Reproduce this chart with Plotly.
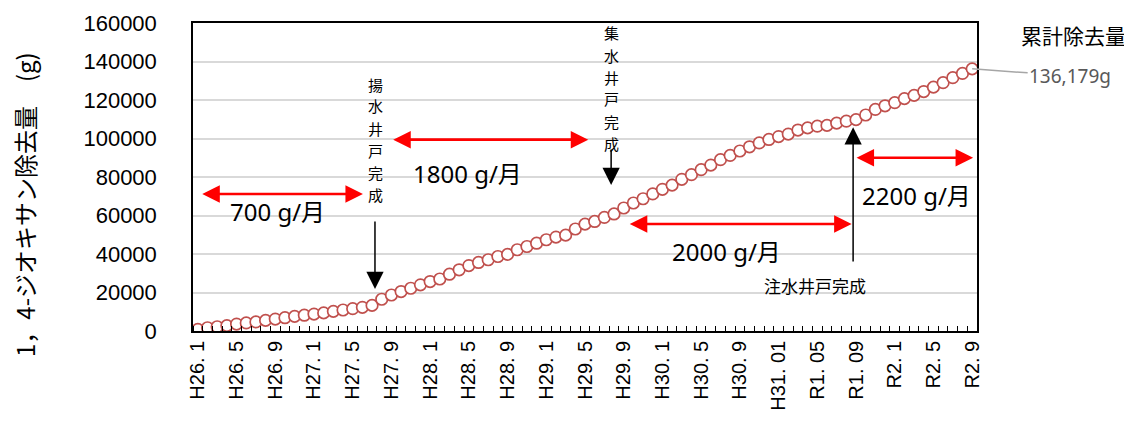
import plotly.graph_objects as go

# ---- data ----
tick_labels = ["H26. 1", "H26. 5", "H26. 9", "H27. 1", "H27. 5", "H27. 9",
               "H28. 1", "H28. 5", "H28. 9", "H29. 1", "H29. 5", "H29. 9",
               "H30. 1", "H30. 5", "H30. 9", "H31. 01", "R1. 05", "R1. 09",
               "R2. 1", "R2. 5", "R2. 9"]
label_step = 4  # one label every 4 months

removal_g = [800, 1700, 2200, 2800, 3600, 4200, 4700, 5500, 6200, 6900,
             7600, 8200, 8800, 9400, 10200, 10900, 11600, 12300, 13300, 16500,
             18700, 20500, 22200, 24000, 25700, 27000, 29500, 31800, 34000, 35600,
             37000, 38700, 39800, 42200, 43900, 45600, 47400, 48800, 49800, 53000,
             55500, 56900, 59000, 60800, 63900, 66500, 68700, 71200, 73600, 75800,
             78800, 81200, 83800, 86200, 89000, 91200, 93500, 95700, 97700, 99500,
             101000, 102300, 104400, 105500, 106400, 106800, 108000, 109000, 109800, 112200,
             115100, 117000, 118600, 120700, 122400, 124400, 126700, 129000, 131600, 133800,
             136179]
month_index = list(range(len(removal_g)))

final_label = "136,179g"
rate_labels = ["700 g/月", "1800 g/月", "2000 g/月", "2200 g/月"]
event_labels = ["揚水井戸完成", "集水井戸完成", "注水井戸完成"]

# plot area in page pixels: x 193..977, y 23..331
PX_L, PX_R, PX_T, PX_B = 193, 977, 23, 331

def paper_x(px):
    return (px - PX_L) / (PX_R - PX_L)

def paper_y(py):
    return (PX_B - py) / (PX_B - PX_T)

# ---- figure ----
fig = go.Figure()
fig.add_trace(go.Scatter(
    x=month_index, y=removal_g, mode="markers",
    marker=dict(symbol="circle", size=11.5, color="white",
                line=dict(color="#C0504D", width=1.7)),
    showlegend=False, hoverinfo="x+y"))

jp = "Noto Sans CJK JP"
annos = []

# vertical event labels: one character per line, stacked
def vertical_label(text, px_x, py_first, step=22):
    for i, ch in enumerate(text):
        annos.append(dict(x=paper_x(px_x), y=paper_y(py_first + i * step),
                          xref="paper", yref="paper", text=ch, showarrow=False,
                          xanchor="center", yanchor="middle", borderpad=0,
                          font=dict(family=jp, size=15, color="black")))

vertical_label(event_labels[0], 375, 84)
vertical_label(event_labels[1], 611, 33)
annos.append(dict(x=paper_x(815), y=paper_y(285), xref="paper", yref="paper",
                  text=event_labels[2], xanchor="center", yanchor="middle",
                  showarrow=False, font=dict(family=jp, size=17, color="black")))

# black arrows
def black_arrow(x, y_tip, y_tail):
    return dict(x=x, y=y_tip, ax=x, ay=y_tail, xref="x", yref="y", axref="x", ayref="y",
                text="", showarrow=True, arrowhead=2, arrowsize=2.3, arrowwidth=1.5,
                arrowcolor="black")

annos.append(black_arrow(18.3, 21800, 57700))
annos.append(black_arrow(42.7, 75900, 95100))
annos.append(black_arrow(67.7, 105800, 35300))

# red double arrows
def red_arrow(x0, x1, y):
    return dict(x=x1, y=y, ax=x0, ay=y, xref="x", yref="y", axref="x", ayref="y",
                text="", showarrow=True, arrowhead=2, startarrowhead=2,
                arrowside="end+start", arrowsize=1.35, startarrowsize=1.35,
                arrowwidth=2.6, arrowcolor="#FF0000")

annos.append(red_arrow(0.3, 17.06, 71200))
annos.append(red_arrow(20.03, 40.34, 99400))
annos.append(red_arrow(44.47, 67.55, 55600))
annos.append(red_arrow(67.9, 80.1, 90000))

# rate labels
for (x, y), t in zip([(8.28, 62000), (27.86, 81900), (54.64, 41200), (74.27, 70650)], rate_labels):
    annos.append(dict(x=x, y=y, xref="x", yref="y", text=t, showarrow=False,
                      xanchor="center", yanchor="middle",
                      font=dict(family="Noto Sans, " + jp, size=24, color="black")))

# cumulative label
annos.append(dict(x=paper_x(1073), y=paper_y(35), xref="paper", yref="paper",
                  text="累計除去量", showarrow=False, xanchor="center", yanchor="middle",
                  font=dict(family=jp, size=21, color="black")))
annos.append(dict(x=month_index[-1], y=removal_g[-1], xref="x", yref="y",
                  text=final_label, showarrow=True, arrowhead=0, arrowwidth=1.5,
                  arrowcolor="#A6A6A6", ax=98, ay=7,
                  font=dict(family="Noto Sans", size=19, color="#595959")))

# y axis title
annos.append(dict(x=paper_x(25), y=paper_y(205), xref="paper", yref="paper",
                  text="1，4-ジオキサン除去量　(g)", textangle=-90, showarrow=False,
                  xanchor="center", yanchor="middle",
                  font=dict(family=jp, size=24, color="black")))

# page body has an 8px default margin, so margins are offset by 8px
fig.update_layout(
    width=1132, height=423,
    margin=dict(l=PX_L - 8, r=1132 + 8 - PX_R, t=PX_T - 8, b=423 + 8 - PX_B),
    paper_bgcolor="white", plot_bgcolor="white",
    annotations=annos,
    xaxis=dict(
        range=[-0.5, len(removal_g) - 0.5],
        tickmode="array",
        tickvals=month_index[::label_step],
        ticktext=tick_labels,
        tickangle=-90,
        ticks="",
        tickfont=dict(family="Liberation Sans", size=20, color="black"),
        showgrid=False, zeroline=False, automargin=False,
        showline=True, linecolor="black", linewidth=1.5, mirror=True,
        minor=dict(tickmode="linear", tick0=0.5, dtick=1, ticks="inside",
                   ticklen=5, tickcolor="black", tickwidth=1, showgrid=False),
    ),
    yaxis=dict(
        range=[0, 160000], dtick=20000, tickformat="d",
        tickfont=dict(family="Liberation Sans", size=22, color="black"),
        showgrid=True, gridcolor="#D9D9D9", gridwidth=1.5,
        zeroline=False, automargin=False,
        showline=True, linecolor="black", linewidth=1.5, mirror=True,
        ticks="", ticklabelstandoff=30,
    ),
)

fig.write_html("out.html")
